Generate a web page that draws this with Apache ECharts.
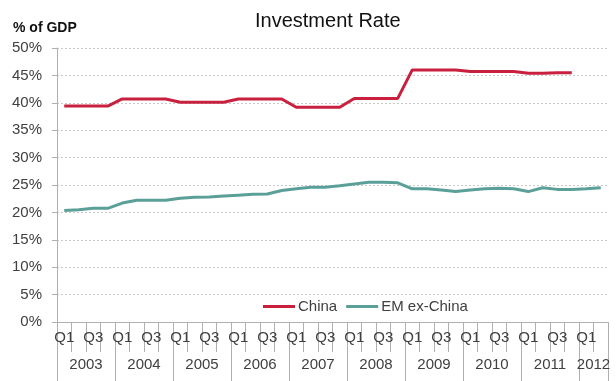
<!DOCTYPE html>
<html>
<head>
<meta charset="utf-8">
<script src="https://cdn.jsdelivr.net/npm/echarts@6/dist/echarts.min.js"></script>
<style>
html,body{margin:0;padding:0;background:#fff;}
#chart{width:616px;height:381px;}
</style>
</head>
<body>
<div id="chart"></div>
<script>
// ---- data ----
var years = ['2003','2004','2005','2006','2007','2008','2009','2010','2011','2012'];
var quarterLabels = [
 'Q1','Q2','Q3','Q4', 'Q1','Q2','Q3','Q4', 'Q1','Q2','Q3','Q4', 'Q1','Q2','Q3','Q4',
 'Q1','Q2','Q3','Q4', 'Q1','Q2','Q3','Q4', 'Q1','Q2','Q3','Q4', 'Q1','Q2','Q3','Q4',
 'Q1','Q2','Q3','Q4', 'Q1','Q2'
];
var china = [
 39.4,39.4,39.4,39.4, 40.7,40.7,40.7,40.7, 40.1,40.1,40.1,40.1, 40.7,40.7,40.7,40.7,
 39.2,39.2,39.2,39.2, 40.8,40.8,40.8,40.8, 46.0,46.0,46.0,46.0, 45.7,45.7,45.7,45.7,
 45.4,45.4,45.5,45.5, null,null
];
var emExChina = [
 20.35,20.5,20.75,20.75, 21.7,22.2,22.2,22.2, 22.6,22.75,22.8,23.0, 23.15,23.3,23.35,24.0,
 24.3,24.6,24.6,24.85, 25.2,25.5,25.5,25.4, 24.3,24.3,24.1,23.8, 24.1,24.3,24.4,24.3,
 23.8,24.5,24.2,24.2, 24.3,24.5
];

// boundary points 0..N; year label at the middle of each year's span
var n = quarterLabels.length;
var yearPoints = [];
for (var i = 0; i <= n; i++) yearPoints.push('');
var yearStarts = [];
for (var i = 0; i < n; i++) if (quarterLabels[i] === 'Q1') yearStarts.push(i);
yearStarts.forEach(function (s, k) {
  var e = k + 1 < yearStarts.length ? yearStarts[k + 1] : n;
  yearPoints[(s + e) / 2] = years[k];
});
var boundaryIdx = yearStarts.concat([n]);

var gridLine = '#c8c8c8';
var axisCol = '#b0b0b0';
var textCol = '#404040';
var FONT = '"Liberation Sans", Arial, sans-serif';

var chart = echarts.init(document.getElementById('chart'));
chart.setOption({
  animation: false,
  backgroundColor: '#fff',
  textStyle: { fontFamily: FONT },
  title: {
    text: 'Investment Rate',
    left: 250,
    top: 6,
    textStyle: { fontSize: 20, fontWeight: 'normal', color: '#111', fontFamily: FONT }
  },
  graphic: [{
    type: 'text',
    left: 13,
    top: 21,
    style: { text: '% of GDP', font: 'bold 14px ' + FONT, fill: '#111' }
  }],
  legend: {
    left: 258,
    top: 294,
    itemWidth: 32,
    itemHeight: 3,
    itemGap: 9,
    icon: 'rect',
    textStyle: { fontSize: 15, color: textCol, fontFamily: FONT, padding: [0, 0, 0, -2] },
    data: ['China', 'EM ex-China']
  },
  grid: { left: 57, right: 8, top: 48, bottom: 59, containLabel: false },
  xAxis: [{
    type: 'category',
    position: 'bottom',
    data: quarterLabels,
    boundaryGap: true,
    axisLine: { show: true, lineStyle: { color: axisCol, width: 1 } },
    axisTick: { show: true, interval: 0, length: 30, lineStyle: { color: axisCol, width: 1 } },
    axisLabel: { interval: 1, margin: 8, fontSize: 15, color: textCol, fontFamily: FONT },
    splitLine: { show: false }
  }, {
    type: 'category',
    position: 'bottom',
    data: yearPoints,
    boundaryGap: false,
    axisLine: { show: false },
    axisTick: {
      show: true,
      length: 60,
      interval: function (idx) { return boundaryIdx.indexOf(idx) >= 0; },
      lineStyle: { color: axisCol }
    },
    axisLabel: { interval: 0, margin: 35, fontSize: 15, color: textCol, fontFamily: FONT },
    splitLine: { show: false }
  }],
  yAxis: {
    type: 'value',
    min: 0, max: 50, interval: 5,
    axisLine: { show: true, lineStyle: { color: axisCol } },
    axisTick: { show: true, length: 5, lineStyle: { color: axisCol } },
    axisLabel: { formatter: '{value}%', fontSize: 15, color: textCol, margin: 15, fontFamily: FONT },
    splitLine: { show: true, lineStyle: { color: gridLine, type: [2, 2], width: 1 } }
  },
  series: [{
    name: 'China',
    type: 'line',
    xAxisIndex: 0,
    data: china,
    symbol: 'none',
    lineStyle: { color: '#C8203E', width: 3 },
    itemStyle: { color: '#C8203E' }
  }, {
    name: 'EM ex-China',
    type: 'line',
    xAxisIndex: 0,
    data: emExChina,
    symbol: 'none',
    lineStyle: { color: '#5B9F99', width: 3 },
    itemStyle: { color: '#5B9F99' }
  }]
});
</script>
</body>
</html>
